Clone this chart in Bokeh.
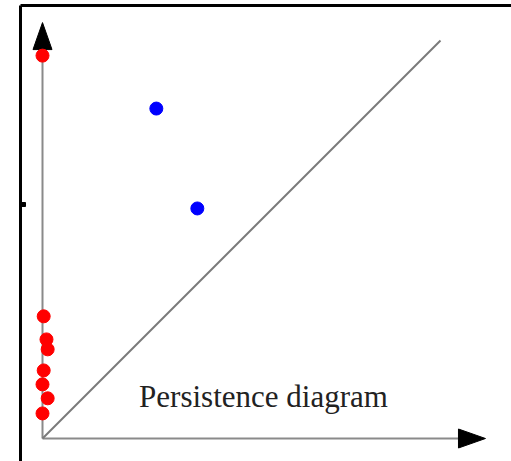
from bokeh.plotting import figure
from bokeh.models import Range1d, Label
from bokeh.embed import file_html
from bokeh.resources import INLINE

# Persistence diagram data (birth, death) in diagram units
red_birth = [0.0, 0.003, 0.010, 0.013, 0.003, 0.0, 0.013, 0.0]
red_death = [0.962, 0.307, 0.249, 0.224, 0.171, 0.136, 0.101, 0.063]
blue_birth = [0.286, 0.389]
blue_death = [0.829, 0.578]
diag_end = 1.0
x_axis_end = 1.113
y_axis_end = 1.045
title_text = "Persistence diagram"

W, H = 511, 461
PX = 398.0  # pixels per unit
OX, OY = 42, 438  # origin in picture pixels
x0 = (0 - OX) / PX
x1 = (W - OX) / PX
y0 = (OY - H) / PX
y1 = (OY - 0) / PX

p = figure(width=W, height=H, output_backend="svg", toolbar_location=None,
           x_range=Range1d(x0, x1), y_range=Range1d(y0, y1), min_border=0)
p.axis.visible = False
p.grid.visible = False
p.outline_line_color = None
p.background_fill_color = "white"
p.border_fill_color = "white"

# frame lines (left and top)
fx = (20 - OX) / PX
fy = (OY - 5) / PX
p.line([fx, fx], [y0, fy], line_color="black", line_width=3)
p.line([fx, x1], [fy, fy], line_color="black", line_width=3)
# small mark at left
p.scatter([(23 - OX) / PX], [(OY - 204) / PX], size=4, color="black", marker="square")

# axes
head_len = 27 / PX
head_half = 9.5 / PX
p.line([0, 0], [0, y_axis_end - head_len * 0.5], line_color="#8a8a8a", line_width=2)
p.line([0, x_axis_end - head_len * 0.5], [0, 0], line_color="#8a8a8a", line_width=2)
# diagonal
p.line([0, diag_end], [0, diag_end], line_color="#7a7a7a", line_width=2)

# arrowheads
p.patch([-head_half, 0, head_half], [y_axis_end - head_len, y_axis_end, y_axis_end - head_len],
        fill_color="black", line_color="black")
p.patch([x_axis_end - head_len, x_axis_end, x_axis_end - head_len], [-head_half, 0, head_half],
        fill_color="black", line_color="black")

# points
p.scatter(red_birth, red_death, size=13, color="#ff0000")
p.scatter(blue_birth, blue_death, size=13, color="#0000ff")

lbl = Label(x=(263 - OX) / PX, y=(OY - 396) / PX, text=title_text,
            text_font="Liberation Serif", text_font_size="31px", text_color="#222222",
            text_align="center", text_baseline="middle")
p.add_layout(lbl)

open("out.html", "w").write(file_html(p, INLINE))
